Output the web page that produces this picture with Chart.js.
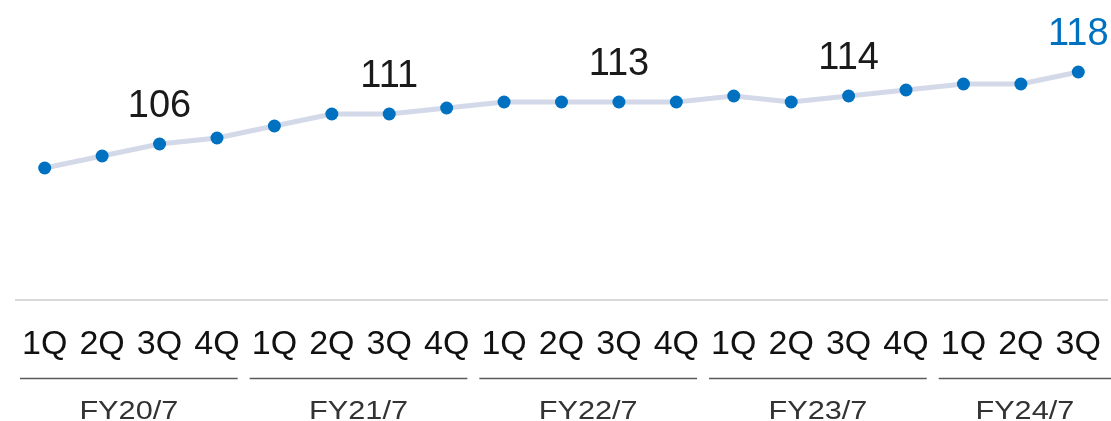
<!DOCTYPE html>
<html><head><meta charset="utf-8">
<script src="https://cdn.jsdelivr.net/npm/chart.js@4/dist/chart.umd.min.js"></script>
<style>html,body{margin:0;padding:0;background:#fff;overflow:hidden}#wrap{width:1111px;height:421px;position:relative}</style>
</head><body><div id="wrap"><canvas id="c" width="1111" height="421"></canvas></div>
<script>
const quarters = ['1Q','2Q','3Q','4Q','1Q','2Q','3Q','4Q','1Q','2Q','3Q','4Q','1Q','2Q','3Q','4Q','1Q','2Q','3Q'];
const fiscalYears = ['FY20/7','FY21/7','FY22/7','FY23/7','FY24/7'];
const groupSizes = [4,4,4,4,3];
const values = [102,104,106,107,109,111,111,112,113,113,113,113,114,113,114,115,116,116,118];
const labeledQuarter = '3Q';

const FONT = "'Helvetica Neue', Helvetica, 'Liberation Sans', Arial, sans-serif";

const overlay = {
  id: 'overlay',
  afterDatasetsDraw(chart) {
    const ctx = chart.ctx;
    const meta = chart.getDatasetMeta(0);
    ctx.save();
    ctx.font = '38px ' + FONT;
    ctx.textAlign = 'center';
    ctx.textBaseline = 'alphabetic';
    const lastIdx = values.length - 1;
    meta.data.forEach((pt, i) => {
      if (quarters[i] !== labeledQuarter) return;
      ctx.fillStyle = i === lastIdx ? '#0070C0' : '#1a1a1a';
      ctx.fillText(String(values[i]), pt.x, pt.y - 27);
    });
    const xs = chart.scales.x;
    const step = xs.getPixelForValue(1) - xs.getPixelForValue(0);
    let start = 0;
    groupSizes.forEach((n, g) => {
      const first = start, last = start + n - 1;
      start += n;
      const x0 = xs.getPixelForValue(first) - step / 2 + 4;
      let x1 = xs.getPixelForValue(last) + step / 2 - 8;
      if (g === groupSizes.length - 1) x1 = chart.width;
      ctx.strokeStyle = '#5a5a5a';
      ctx.lineWidth = 1.5;
      ctx.beginPath();
      ctx.moveTo(x0, xs.top + 78.5);
      ctx.lineTo(x1, xs.top + 78.5);
      ctx.stroke();
      ctx.save();
      ctx.fillStyle = '#333333';
      ctx.font = '26px ' + FONT;
      ctx.translate((x0 + x1) / 2, xs.top + 118.5);
      ctx.scale(1.18, 1);
      ctx.fillText(fiscalYears[g], 0, 0);
      ctx.restore();
    });
    ctx.restore();
  }
};

new Chart(document.getElementById('c'), {
  type: 'line',
  data: {
    labels: quarters,
    datasets: [{
      data: values,
      borderColor: '#D3D9E8',
      borderWidth: 5,
      tension: 0,
      pointRadius: 6.5,
      pointHoverRadius: 6.5,
      pointBackgroundColor: '#0070C0',
      pointBorderWidth: 0,
      clip: false
    }]
  },
  options: {
    responsive: false,
    animation: false,
    layout: { autoPadding: false, padding: { left: 16, right: 4, top: 0, bottom: 0 } },
    plugins: { legend: { display: false }, tooltip: { enabled: false } },
    scales: {
      x: {
        offset: true,
        grid: { display: false, drawTicks: true, tickLength: 24, tickColor: 'rgba(0,0,0,0)' },
        border: { display: true, color: '#d9d9d9', width: 2 },
        ticks: { font: { size: 34, family: FONT }, color: '#111111', padding: 0, maxRotation: 0, autoSkip: false },
        afterFit(s) { s.height = 121; }
      },
      y: { display: false, min: 80, max: 130 }
    }
  },
  plugins: [overlay]
});
</script>
</body></html>
